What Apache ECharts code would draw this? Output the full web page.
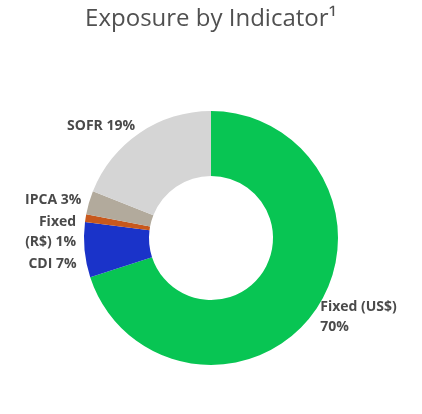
<!DOCTYPE html>
<html><head><meta charset="utf-8">
<script src="https://cdn.jsdelivr.net/npm/echarts@6/dist/echarts.min.js"></script>
<style>html,body{margin:0;padding:0;background:#fff}#c{width:422px;height:414px}</style>
</head><body><div id="c"></div>
<script>
const categories = ['Fixed (US$)', 'CDI', 'Fixed\n(R$)', 'IPCA', 'SOFR'];
const values = [70, 7, 1, 3, 19];
const colors = ['#08c553', '#1a33c9', '#c8581c', '#b2aa9c', '#d5d5d5'];
const labelText = ['Fixed (US$)\n70%', 'CDI 7%', 'Fixed\n(R$) 1%', 'IPCA 3%', 'SOFR 19%'];
const chart = echarts.init(document.getElementById('c'));
chart.setOption({
  title: { text: 'Exposure by Indicator¹', left: 'center', top: 2,
    textStyle: { fontFamily: 'Open Sans', fontSize: 24, fontWeight: 'normal', color: '#505050' } },
  series: [{
    type: 'pie', center: [211, 238], radius: [62, 127], startAngle: 90, clockwise: true,
    silent: true,
    data: categories.map((c, i) => ({ name: c, value: values[i], itemStyle: { color: colors[i] },
      label: { formatter: labelText[i] } })),
    label: { show: true, position: 'outside', fontFamily: 'Open Sans', fontSize: 14, fontWeight: 'bold',
      color: '#4a4a4a', lineHeight: 20, distanceToLabelLine: 0 },
    labelLine: { show: false, length: 8, length2: 0 }
  }]
});
</script></body></html>
